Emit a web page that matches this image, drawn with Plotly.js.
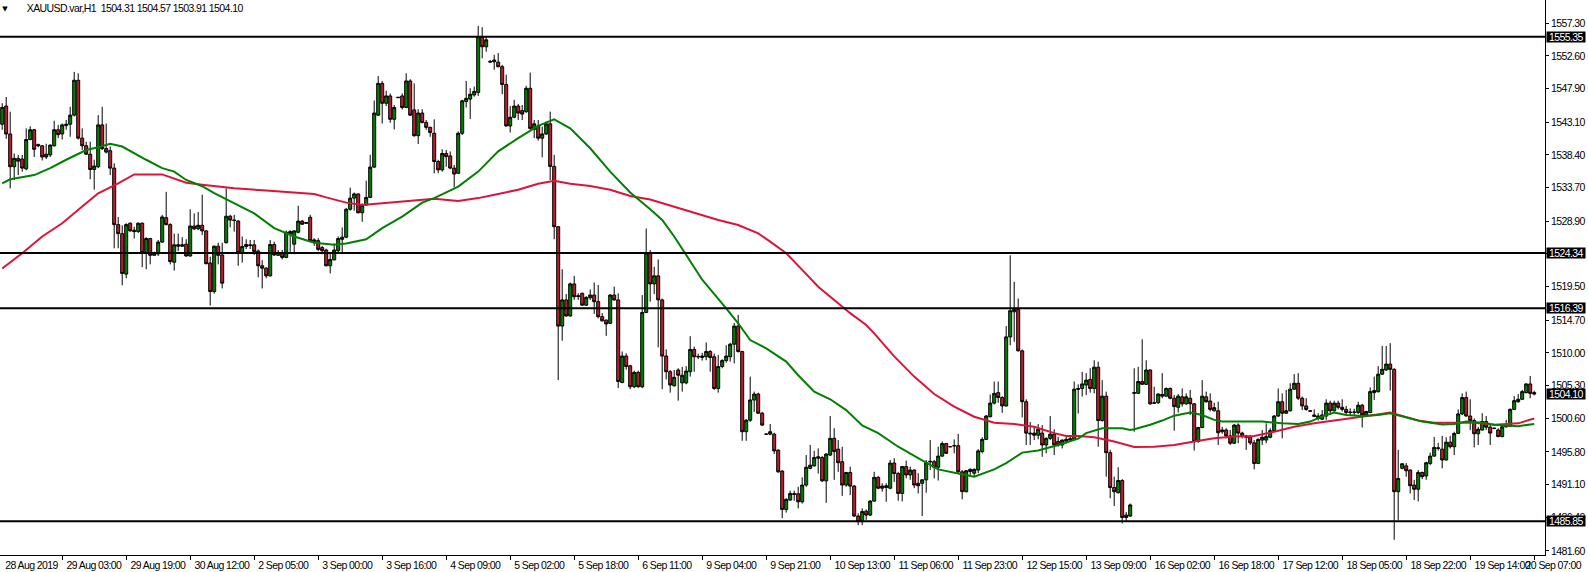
<!DOCTYPE html>
<html><head><meta charset="utf-8">
<script src="https://cdn.plot.ly/plotly-3.0.1.min.js"></script>
<style>html,body{margin:0;padding:0;background:#fff;overflow:hidden}#chart{width:1588px;height:572px}
#chart svg text{letter-spacing:-0.6px}</style>
</head><body><div id="chart"></div>
<script>
const symbolTitle = "XAUUSD.var,H1";
const lastQuote = ["1504.31", "1504.57", "1503.91", "1504.10"];

const open = [
1542.8,1545.4,1541.4,1536.7,1537.9,1537.8,1536.4,1540.6,1542.0,1539.9,
1539.7,1538.5,1538.4,1539.7,1542.0,1541.4,1542.6,1542.8,1544.1,1549.1,
1540.8,1539.7,1538.5,1536.3,1536.7,1542.7,1539.3,1539.0,1536.5,1528.4,
1527.1,1521.3,1528.6,1527.6,1527.4,1528.6,1524.4,1526.4,1524.0,1524.2,
1525.9,1529.4,1528.4,1523.0,1525.3,1525.3,1525.6,1523.9,1528.2,1527.8,
1528.3,1527.5,1522.9,1518.8,1525.3,1524.05,1525.8,1529.6,1529.05,1528.9,
1524.4,1525.25,1525.5,1525.5,1524.6,1522.5,1522.15,1521.05,1525.55,1524.0,
1524.3,1523.7,1527.05,1525.6,1527.3,1528.9,1528.7,1529.45,1526.0,1526.1,
1525.1,1524.75,1522.5,1523.35,1524.65,1526.3,1526.6,1530.6,1532.2,1532.8,
1530.1,1531.2,1532.3,1536.65,1544.1,1548.65,1545.8,1546.85,1543.5,1546.6,
1546.85,1545.2,1549.0,1544.85,1541.15,1544.4,1543.05,1542.35,1541.5,1537.45,
1536.25,1538.6,1538.25,1536.5,1535.75,1541.5,1546.05,1546.4,1547.0,1547.35,
1555.35,1553.9,1551.7,1551.75,1551.7,1551.05,1548.5,1542.55,1543.8,1545.4,
1544.75,1544.6,1547.95,1542.05,1542.55,1540.8,1541.4,1542.85,1536.75,1528.1,
1513.85,1517.6,1515.3,1519.9,1518.2,1518.55,1516.85,1517.9,1518.3,1517.35,
1515.2,1514.7,1514.25,1518.3,1517.6,1505.75,1509.55,1508.15,1505.15,1507.2,
1505.15,1515.8,1524.4,1519.9,1521.05,1517.6,1509.55,1507.3,1505.3,1507.55,
1505.7,1505.7,1507.3,1510.5,1509.5,1509.35,1509.45,1510.2,1509.45,1504.9,
1508.05,1508.9,1509.45,1511.25,1513.85,1510.2,1498.7,1500.35,1503.25,1504.1,
1501.35,1498.35,1498.35,1498.35,1496.05,1493.05,1487.55,1488.9,1489.7,1489.8,
1488.65,1491.05,1493.45,1493.8,1494.9,1495.0,1491.65,1495.35,1497.75,1496.2,
1494.4,1491.05,1492.85,1490.9,1486.6,1485.8,1487.3,1486.75,1488.75,1492.15,
1490.9,1490.7,1490.6,1494.2,1492.7,1489.85,1493.7,1492.5,1493.2,1491.3,
1491.3,1491.8,1494.35,1494.4,1493.6,1495.2,1497.0,1496.55,1496.65,1496.7,
1492.95,1490.1,1493.0,1492.75,1493.2,1495.85,1497.6,1500.85,1502.8,1504.3,
1503.6,1502.4,1512.3,1515.9,1516.25,1510.3,1503.0,1498.5,1498.5,1498.2,
1498.5,1496.8,1497.75,1498.35,1497.3,1496.8,1497.35,1497.5,1497.6,1504.9,
1504.9,1505.4,1506.2,1504.9,1507.95,1500.3,1503.8,1495.7,1490.7,1489.95,
1491.7,1486.75,1486.6,1504.2,1504.2,1505.9,1505.5,1507.55,1502.85,1502.85,
1503.8,1503.8,1504.9,1503.5,1502.2,1503.7,1502.7,1503.5,1502.7,1497.3,
1499.3,1503.7,1503.1,1501.7,1501.7,1498.7,1498.95,1498.1,1497.05,1499.65,
1498.5,1498.1,1498.0,1497.1,1494.15,1497.5,1497.5,1497.9,1498.85,1500.95,
1503.0,1501.35,1501.7,1504.8,1505.65,1503.5,1502.4,1501.7,1501.1,1500.6,
1500.5,1500.95,1502.8,1501.7,1502.8,1502.2,1501.9,1501.45,1501.5,1501.45,
1502.5,1501.1,1501.45,1504.3,1504.45,1506.95,1507.55,1508.4,1507.65,1490.1,
1493.45,1493.8,1493.2,1491.05,1490.45,1492.85,1492.35,1494.15,1495.2,1496.4,
1496.2,1494.65,1497.2,1496.55,1498.45,1501.25,1503.6,1500.95,1500.3,1498.4,
1498.95,1500.15,1499.35,1499.15,1498.95,1498.0,1499.4,1499.5,1501.9,1503.0,
1503.35,1504.3,1505.55,1504.31];

const high = [
1545.8,1546.7,1544.6,1538.6,1538.4,1538.4,1542.2,1542.5,1542.1,1540.0,
1539.8,1540.0,1539.9,1543.3,1542.7,1542.9,1543.4,1545.3,1550.3,1550.1,
1542.2,1540.3,1540.3,1537.7,1544.1,1545.3,1542.9,1539.6,1537.2,1529.5,
1528.3,1528.6,1528.7,1528.1,1528.7,1528.7,1526.6,1526.5,1524.5,1526.2,
1529.8,1533.1,1528.6,1527.1,1527.1,1526.6,1526.3,1530.6,1530.0,1530.2,
1532.7,1527.6,1523.8,1525.4,1525.8,1525.8,1533.6,1529.8,1529.8,1529.05,
1526.7,1526.3,1526.2,1526.2,1524.85,1523.3,1522.3,1526.2,1525.95,1524.75,
1524.75,1527.55,1527.6,1527.6,1531.1,1529.05,1528.8,1529.8,1526.45,1526.45,
1525.35,1524.95,1524.3,1525.7,1526.7,1528.0,1530.8,1533.7,1533.0,1532.9,
1531.45,1534.7,1538.4,1546.2,1549.7,1549.0,1547.6,1547.2,1545.55,1546.7,
1547.2,1550.1,1549.25,1548.65,1544.95,1544.95,1543.4,1542.45,1543.5,1537.7,
1539.2,1539.1,1538.9,1536.95,1541.75,1546.3,1549.0,1547.95,1548.2,1556.9,
1556.7,1555.3,1552.0,1552.75,1553.0,1551.3,1549.9,1545.4,1546.3,1545.7,
1545.55,1548.3,1550.2,1543.4,1543.4,1542.45,1543.2,1544.6,1538.4,1528.2,
1522.0,1518.45,1520.1,1521.05,1518.55,1518.65,1518.15,1519.1,1520.1,1519.75,
1515.7,1514.8,1518.45,1519.5,1518.55,1510.2,1509.95,1508.3,1507.45,1507.45,
1518.3,1527.85,1524.75,1522.35,1523.4,1517.8,1510.5,1507.55,1507.55,1507.8,
1508.0,1508.1,1512.4,1510.9,1509.9,1510.0,1511.5,1510.4,1509.9,1509.7,
1509.1,1511.1,1511.45,1514.3,1515.45,1510.3,1500.5,1506.6,1504.45,1504.3,
1501.55,1498.4,1499.8,1498.55,1496.2,1493.2,1489.15,1490.25,1490.25,1490.8,
1492.15,1495.35,1496.8,1495.95,1496.3,1495.2,1495.6,1500.95,1499.2,1497.5,
1496.55,1492.95,1493.7,1491.05,1487.0,1487.7,1487.55,1488.9,1492.95,1492.35,
1491.3,1491.3,1494.65,1494.9,1492.95,1493.8,1494.55,1493.7,1493.3,1492.75,
1491.9,1494.65,1497.5,1494.65,1496.55,1497.3,1497.1,1496.6,1497.6,1498.4,
1493.2,1493.2,1493.45,1493.45,1496.2,1497.9,1501.1,1504.05,1505.9,1505.9,
1503.8,1513.85,1524.0,1520.2,1517.8,1510.5,1503.35,1500.1,1499.4,1499.8,
1499.65,1497.9,1500.95,1499.05,1497.95,1497.6,1497.95,1497.95,1505.9,1505.5,
1507.3,1507.1,1507.8,1508.95,1508.75,1506.1,1504.45,1496.1,1492.25,1493.6,
1491.9,1487.2,1488.4,1507.8,1508.0,1511.95,1508.95,1507.65,1505.15,1504.2,
1507.1,1505.05,1505.05,1503.95,1504.1,1504.9,1504.2,1504.7,1502.8,1499.4,
1506.1,1504.45,1504.2,1502.85,1503.0,1499.4,1499.2,1498.95,1499.8,1499.9,
1498.7,1498.25,1498.25,1497.5,1497.75,1498.95,1499.9,1499.2,1501.1,1504.9,
1504.2,1504.7,1505.65,1506.95,1507.1,1503.75,1503.5,1501.75,1501.9,1501.35,
1501.8,1503.35,1503.15,1503.15,1503.15,1503.35,1502.4,1502.05,1502.0,1503.0,
1502.7,1501.7,1505.05,1506.6,1508.1,1511.0,1511.0,1511.4,1507.8,1496.1,
1494.2,1494.2,1493.3,1491.8,1493.2,1493.0,1494.4,1495.7,1497.95,1497.1,
1498.1,1497.9,1498.1,1498.7,1501.9,1504.2,1504.45,1503.35,1500.6,1499.4,
1501.35,1500.95,1499.7,1499.25,1499.2,1499.65,1500.4,1502.05,1503.8,1504.1,
1504.7,1505.65,1506.7,1504.57];

const low = [
1542.0,1540.7,1533.6,1534.8,1535.5,1536.0,1536.2,1540.5,1538.1,1539.5,
1537.6,1537.8,1538.1,1539.6,1540.8,1540.6,1542.0,1541.0,1543.9,1540.6,
1539.1,1538.4,1534.9,1533.4,1536.5,1539.1,1538.6,1535.5,1525.0,1525.0,
1519.7,1520.7,1527.4,1526.4,1527.2,1522.3,1522.0,1522.7,1523.9,1523.9,
1525.8,1528.3,1522.7,1521.8,1524.6,1525.2,1523.8,1523.8,1527.6,1527.6,
1526.9,1522.7,1516.8,1518.5,1522.7,1519.25,1525.7,1528.0,1527.4,1522.5,
1522.95,1524.9,1524.9,1524.05,1520.85,1519.25,1520.7,1520.95,1523.9,1523.9,
1523.4,1523.6,1524.5,1524.15,1527.15,1528.35,1528.6,1526.0,1525.35,1524.6,
1524.15,1522.4,1521.4,1523.25,1524.4,1524.4,1526.45,1530.4,1530.4,1530.0,
1528.8,1531.1,1532.2,1536.5,1544.0,1542.9,1545.4,1543.0,1542.05,1546.55,
1544.9,1545.1,1544.0,1541.0,1539.95,1542.9,1542.0,1541.0,1535.75,1535.75,
1536.0,1536.7,1536.35,1533.75,1535.65,1541.25,1545.2,1543.55,1546.75,1546.85,
1552.25,1553.2,1551.6,1550.6,1550.95,1547.1,1542.45,1541.6,1543.65,1543.4,
1543.4,1544.4,1542.0,1540.8,1540.45,1538.05,1541.25,1534.8,1526.3,1506.1,
1511.75,1515.2,1515.2,1517.6,1517.6,1516.75,1516.75,1517.6,1515.6,1514.95,
1514.5,1512.45,1514.15,1517.5,1504.95,1505.65,1507.6,1504.8,1504.95,1505.0,
1504.95,1515.7,1517.35,1518.45,1510.8,1504.8,1506.2,1504.3,1505.15,1503.15,
1504.45,1505.5,1506.6,1507.3,1509.1,1508.9,1508.95,1507.3,1504.7,1504.3,
1507.8,1508.6,1508.75,1508.5,1510.05,1497.4,1497.4,1500.1,1501.55,1501.25,
1499.5,1498.3,1498.2,1495.5,1492.8,1486.3,1487.1,1488.8,1488.8,1487.7,
1488.4,1490.8,1493.3,1493.7,1492.7,1491.5,1488.5,1495.2,1491.8,1492.95,
1489.5,1490.8,1489.6,1486.5,1485.3,1485.3,1486.05,1486.6,1488.65,1490.45,
1490.1,1488.65,1490.45,1491.5,1488.8,1488.7,1492.0,1491.8,1490.6,1489.85,
1486.6,1489.95,1493.2,1492.0,1491.7,1495.1,1495.5,1496.5,1495.6,1492.8,
1489.0,1490.0,1492.5,1492.15,1492.75,1495.6,1497.5,1500.75,1502.6,1502.85,
1501.4,1502.3,1511.1,1511.6,1510.2,1500.75,1496.8,1496.8,1497.5,1497.6,
1495.1,1495.6,1497.5,1495.35,1496.55,1496.3,1497.0,1497.25,1497.5,1501.3,
1503.75,1503.95,1504.3,1504.2,1496.55,1500.15,1492.25,1489.15,1488.05,1489.85,
1485.55,1485.8,1486.5,1498.7,1504.1,1505.4,1505.4,1502.55,1502.7,1502.7,
1503.5,1503.75,1503.35,1498.85,1501.45,1502.3,1502.55,1501.1,1496.0,1497.1,
1499.2,1502.85,1501.6,1501.6,1496.8,1498.4,1497.75,1496.8,1496.95,1497.05,
1497.75,1496.1,1496.8,1493.3,1494.05,1496.8,1497.05,1497.75,1498.7,1500.8,
1497.75,1501.25,1501.6,1504.7,1503.25,1501.8,1501.7,1501.6,1500.8,1500.3,
1500.4,1500.4,1501.1,1501.6,1501.9,1501.6,1501.1,1501.1,1501.1,1501.25,
1499.3,1500.95,1501.35,1503.25,1504.3,1506.85,1507.45,1504.6,1483.2,1486.05,
1493.3,1492.25,1489.85,1488.9,1488.7,1491.9,1491.8,1493.9,1495.1,1496.0,
1493.45,1494.55,1496.3,1495.35,1498.4,1501.1,1500.85,1498.95,1496.45,1496.8,
1498.85,1498.95,1496.8,1499.1,1497.9,1497.9,1499.3,1499.4,1501.8,1502.85,
1503.25,1504.2,1503.5,1503.91];

const close = [
1545.2,1541.4,1536.7,1537.9,1537.5,1536.5,1540.6,1542.0,1539.2,1539.7,
1538.1,1538.1,1539.8,1542.0,1541.3,1542.7,1542.8,1544.1,1549.1,1540.8,
1539.7,1538.5,1536.3,1536.8,1542.7,1539.3,1538.8,1536.5,1528.4,1527.1,
1521.4,1528.4,1527.5,1527.4,1528.6,1524.4,1526.4,1524.0,1524.35,1525.9,
1529.5,1528.4,1523.1,1525.5,1525.5,1525.5,1523.9,1528.2,1527.8,1528.3,
1527.5,1522.8,1518.8,1525.3,1524.0,1520.0,1529.6,1529.05,1529.0,1524.4,
1525.25,1525.55,1525.4,1524.55,1522.5,1522.15,1521.05,1525.55,1524.05,1524.4,
1523.7,1527.3,1527.4,1527.5,1528.9,1528.45,1528.6,1526.1,1526.2,1524.85,
1524.65,1522.5,1523.4,1524.75,1526.4,1526.6,1530.6,1532.2,1532.8,1530.1,
1531.2,1532.3,1536.65,1544.4,1548.65,1545.8,1546.85,1543.5,1545.2,1546.65,
1545.2,1549.0,1544.1,1541.15,1544.4,1543.05,1542.35,1541.6,1537.45,1536.25,
1538.6,1538.15,1536.5,1535.65,1541.5,1546.15,1546.5,1547.1,1547.5,1555.35,
1553.9,1554.9,1551.8,1552.0,1551.05,1548.5,1542.55,1543.8,1545.4,1544.4,
1544.25,1547.95,1542.2,1542.85,1540.8,1541.4,1542.85,1536.75,1528.1,1513.85,
1517.6,1515.3,1519.9,1518.05,1518.1,1516.85,1517.95,1518.3,1517.35,1515.2,
1514.6,1514.15,1518.3,1517.6,1505.9,1509.55,1508.05,1505.15,1507.2,1505.15,
1515.8,1524.35,1519.9,1521.05,1517.6,1509.55,1507.3,1505.4,1506.5,1506.8,
1506.8,1507.4,1510.5,1509.45,1509.45,1509.55,1510.2,1509.35,1504.9,1508.05,
1508.9,1509.55,1511.25,1513.85,1510.2,1498.7,1500.35,1503.25,1504.1,1501.35,
1499.65,1498.35,1498.7,1495.95,1492.95,1487.55,1489.0,1489.85,1489.8,1488.65,
1491.05,1493.6,1493.9,1495.0,1495.1,1491.65,1495.5,1497.75,1495.85,1494.25,
1491.05,1492.85,1490.9,1486.6,1485.8,1487.25,1486.75,1488.75,1492.15,1490.6,
1490.6,1490.95,1494.2,1492.7,1489.85,1493.7,1492.5,1493.2,1491.05,1490.95,
1491.8,1494.25,1494.45,1493.6,1495.2,1497.0,1495.6,1496.55,1496.7,1492.95,
1490.1,1493.1,1493.3,1493.3,1495.95,1497.6,1500.95,1502.8,1504.2,1503.6,
1502.4,1512.3,1516.05,1516.25,1510.3,1503.0,1498.5,1498.4,1498.2,1499.05,
1496.8,1497.75,1498.35,1496.8,1496.8,1497.5,1497.6,1497.7,1504.8,1504.8,
1505.55,1506.1,1504.9,1507.95,1500.3,1503.8,1495.7,1490.7,1490.1,1491.7,
1486.4,1486.4,1488.2,1504.3,1505.9,1505.5,1507.55,1502.7,1502.8,1504.1,
1504.05,1504.9,1503.5,1502.3,1503.8,1502.7,1503.7,1502.7,1497.3,1499.3,
1503.8,1503.0,1501.9,1502.15,1498.55,1498.95,1498.1,1497.05,1499.65,1498.5,
1498.1,1497.9,1497.1,1494.15,1497.6,1497.9,1498.0,1498.85,1500.95,1503.0,
1501.35,1501.7,1504.8,1505.65,1503.5,1502.4,1501.9,1501.65,1500.9,1500.95,
1501.1,1502.8,1501.7,1502.8,1502.2,1501.9,1501.45,1501.5,1501.5,1502.5,
1501.1,1501.6,1504.45,1504.6,1506.95,1507.65,1508.4,1507.65,1490.1,1492.0,
1494.1,1493.1,1490.95,1490.45,1492.85,1492.25,1494.25,1495.2,1496.45,1496.3,
1494.65,1497.2,1496.55,1498.45,1501.25,1503.6,1500.95,1500.3,1498.4,1499.05,
1500.15,1499.35,1498.5,1499.2,1498.0,1499.4,1499.65,1501.9,1503.15,1503.35,
1504.45,1505.55,1504.2,1504.10];

// moving averages, read at sampled bars
const fastMaIdx = [0,2,8,12,16,19,21,24,27,30,33,36,40,43,46,50,53,58,63,68,73,78,83,86,91,95,100,105,108,114,119,124,129,134,138,142,147,152,157,162,165,168,171,175,181,184,187,191,196,199,203,207,211,215,219,224,229,234,239,243,248,251,255,259,264,269,271,275,280,282,283,287,290,293,297,300,303,305,310,315,320,324,327,330,333,336,340,344,347,351,355,360,363,366,370,373,379,383];
const fastMaVal = [1534.3,1534.9,1535.5,1536.5,1537.7,1538.6,1539.1,1539.5,1540.0,1539.6,1538.6,1537.7,1536.5,1536.0,1534.8,1533.9,1532.9,1531.5,1530.0,1527.9,1526.7,1525.8,1525.5,1525.7,1526.3,1527.9,1529.55,1531.55,1532.2,1533.85,1536.0,1538.9,1540.8,1542.55,1543.5,1542.2,1539.35,1536.0,1533.0,1530.6,1529.06,1526.7,1524.0,1520.5,1516.4,1514.25,1511.85,1510.65,1508.75,1506.8,1504.45,1503.35,1501.8,1499.6,1498.5,1496.55,1494.9,1493.3,1492.7,1492.25,1493.3,1494.2,1495.7,1496.0,1496.8,1497.7,1498.5,1499.2,1499.2,1498.95,1499.05,1499.7,1500.3,1501.0,1501.45,1501.1,1500.4,1500.15,1500.15,1500.15,1499.9,1499.8,1500.15,1500.9,1501.45,1501.1,1500.95,1501.1,1501.35,1500.75,1500.15,1499.75,1499.8,1500.15,1500.0,1499.7,1499.5,1499.8];
const slowMaIdx = [0,5,10,15,20,24,29,33,40,43,46,50,54,58,66,73,78,81,86,90,93,98,103,108,114,119,124,129,134,138,142,147,152,157,162,170,174,179,184,189,192,196,200,204,208,212,216,218,223,228,233,238,243,248,253,258,263,266,269,273,278,283,288,293,298,303,308,313,318,323,328,333,338,343,347,350,354,358,363,368,373,379,383];
const slowMaVal = [1522.1,1524.3,1526.7,1528.6,1531.0,1532.9,1534.3,1535.6,1535.6,1535.0,1534.4,1534.1,1533.8,1533.6,1533.3,1533.0,1532.8,1532.3,1531.55,1531.2,1531.35,1531.7,1531.95,1532.1,1531.8,1532.2,1532.8,1533.4,1534.25,1534.7,1534.25,1533.95,1533.4,1532.5,1532.0,1530.6,1529.9,1529.06,1528.35,1527.15,1525.95,1524.3,1521.9,1519.5,1517.6,1515.7,1514.0,1512.8,1509.5,1506.6,1504.1,1502.3,1500.85,1500.0,1499.8,1499.4,1498.5,1498.1,1498.1,1497.9,1497.3,1496.5,1496.55,1496.8,1497.3,1497.75,1498.0,1498.1,1498.7,1499.4,1499.9,1500.3,1500.6,1501.1,1501.45,1500.95,1500.3,1500.0,1500.0,1500.0,1499.7,1499.9,1500.6];

const levels = [1555.35, 1524.34, 1516.39, 1485.85];
const bidPrice = 1504.10;
const yTicks = [1557.30,1552.60,1547.90,1543.10,1538.40,1533.70,1528.90,1524.20,1519.50,1514.70,1510.00,1505.30,1500.60,1495.80,1491.10,1486.40,1481.60];
const firstLabel = "28 Aug 2019";
const xTickIdx = [15,31,47,63,79,95,111,127,143,159,175,191,207,223,239,255,271,287,303,319,335,351,367,383];
const xTickText = ["29 Aug 03:00","29 Aug 19:00","30 Aug 12:00","2 Sep 05:00","3 Sep 00:00","3 Sep 16:00","4 Sep 09:00","5 Sep 02:00","5 Sep 18:00","6 Sep 11:00","9 Sep 04:00","9 Sep 21:00","10 Sep 13:00","11 Sep 06:00","11 Sep 23:00","12 Sep 15:00","13 Sep 09:00","16 Sep 02:00","16 Sep 18:00","17 Sep 12:00","18 Sep 05:00","18 Sep 22:00","19 Sep 14:00","20 Sep 07:00"];

const FONT = "'Liberation Sans', Arial, sans-serif";
const FS = 10.5;
const barIndex = open.map((_, i) => i);

const traces = [
  {type: 'candlestick', x: barIndex, open: open, high: high, low: low, close: close,
   increasing: {line: {color: '#000000', width: 1}, fillcolor: '#008000'},
   decreasing: {line: {color: '#000000', width: 1}, fillcolor: '#B5202E'},
   whiskerwidth: 0, hoverinfo: 'skip', showlegend: false},
  {type: 'scatter', mode: 'lines', x: slowMaIdx, y: slowMaVal,
   line: {color: '#DC143C', width: 2}, hoverinfo: 'skip', showlegend: false},
  {type: 'scatter', mode: 'lines', x: fastMaIdx, y: fastMaVal,
   line: {color: '#008000', width: 2}, hoverinfo: 'skip', showlegend: false}
];

const shapes = levels.map(v => ({type: 'line', xref: 'paper', x0: 0, x1: 1, yref: 'y', y0: v, y1: v,
  line: {color: '#000000', width: 2}, layer: 'above'}));

const annotations = [];
[...levels, bidPrice].forEach(v => annotations.push({
  xref: 'paper', x: 1, xanchor: 'left', xshift: 1, yref: 'y', y: v, yanchor: 'middle',
  text: v.toFixed(2), showarrow: false, bgcolor: '#000000', borderpad: 0, width: 38, height: 10,
  align: 'center', font: {family: FONT, size: FS, color: '#ffffff'}}));
annotations.push({xref: 'x', x: -0.55, xanchor: 'left', yref: 'paper', y: 0, yanchor: 'top', yshift: -2,
  text: firstLabel, showarrow: false, font: {family: FONT, size: FS, color: '#000'}});
xTickIdx.forEach((ix, k) => {
  const isLast = k === xTickIdx.length - 1;
  annotations.push(isLast
    ? {xref: 'paper', x: 1, xanchor: 'right', xshift: 42, yref: 'paper', y: 0, yanchor: 'top', yshift: -2,
       text: xTickText[k], showarrow: false, font: {family: FONT, size: FS, color: '#000'}}
    : {xref: 'x', x: ix, xanchor: 'left', xshift: -1, yref: 'paper', y: 0, yanchor: 'top', yshift: -2,
       text: xTickText[k], showarrow: false, font: {family: FONT, size: FS, color: '#000'}});
});
annotations.push({xref: 'paper', x: 0, xanchor: 'left', xshift: 0, yref: 'paper', y: 1, yanchor: 'top', yshift: -3,
  text: '\u25BC', showarrow: false, font: {family: 'DejaVu Sans', size: 7, color: '#000'}});
annotations.push({xref: 'paper', x: 0, xanchor: 'left', xshift: 11, yref: 'paper', y: 1, yanchor: 'top', yshift: 0,
  text: symbolTitle + '\u00a0\u00a0' + lastQuote.join(' '), showarrow: false,
  font: {family: FONT, size: FS, color: '#000'}});

const layout = {
  width: 1588, height: 572,
  margin: {l: 0, r: 43, t: 0, b: 17, pad: 0},
  paper_bgcolor: '#ffffff', plot_bgcolor: '#ffffff', showlegend: false,
  boxgap: 0.25, boxgroupgap: 0,
  xaxis: {type: 'linear', range: [-0.55, 385.7], showgrid: false, zeroline: false,
    showline: true, linecolor: '#000', linewidth: 1, ticks: 'outside', ticklen: 4, tickcolor: '#000',
    tickvals: xTickIdx, ticktext: xTickIdx.map(() => ''), rangeslider: {visible: false}, fixedrange: true},
  yaxis: {side: 'right', range: [1481.02, 1560.61], showgrid: false, zeroline: false,
    showline: true, linecolor: '#000', linewidth: 1, ticks: 'outside', ticklen: 3, tickcolor: '#000',
    tickvals: yTicks, ticktext: yTicks.map(v => v.toFixed(2)),
    tickfont: {family: FONT, size: FS, color: '#000'}, fixedrange: true},
  shapes: shapes, annotations: annotations
};

Plotly.newPlot('chart', traces, layout, {staticPlot: true, displayModeBar: false});
</script>
</body></html>
